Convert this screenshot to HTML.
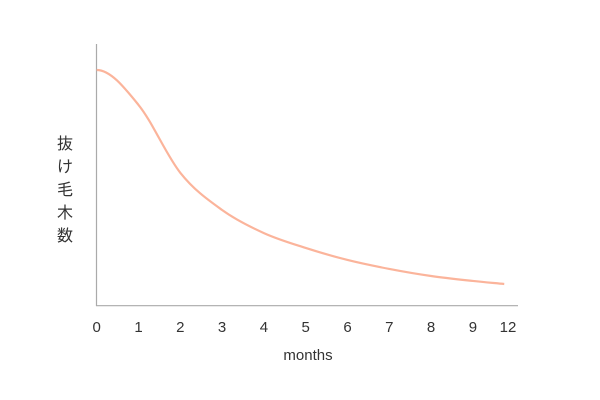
<!DOCTYPE html>
<html><head><meta charset="utf-8"><style>
html,body{margin:0;padding:0;background:#fff;}
svg{display:block;font-family:"Liberation Sans","Noto Sans CJK JP",sans-serif;}
</style></head><body>
<svg id="chart" width="600" height="400" viewBox="0 0 600 400">
<line x1="96.5" y1="44" x2="96.5" y2="306" stroke="#aaa" stroke-width="1.2"/>
<line x1="96" y1="305.7" x2="518" y2="305.7" stroke="#aaa" stroke-width="1.2"/>
<g id="xticks"></g>
<path id="curve" fill="none" stroke="#fbb49b" stroke-width="2.2"/>
<text x="308" y="360" text-anchor="middle" font-size="15" fill="#333">months</text>
<g font-size="16" fill="#333" text-anchor="middle">
<text x="65" y="149">抜</text><text x="65" y="172">け</text><text x="65" y="195">毛</text><text x="65" y="218">木</text><text x="65" y="241">数</text>
</g>
</svg>
<script>
const tickLabels = ["0","1","2","3","4","5","6","7","8","9","12"];
const tickIndex = [0,1,2,3,4,5,6,7,8,9,9.84];
const pointIndex = [0,1,2,3,4,5,6,7,8,9,9.75];
const values = [100,85.2,56.4,40.6,30.8,24.5,19.4,15.6,12.6,10.5,9.2];
const X0=96.7, DX=41.8, Y0=305.7, YS=2.357;
const xs = i => X0 + i*DX;
const ys = v => Y0 - v*YS;
const ns="http://www.w3.org/2000/svg";
const g=document.getElementById('xticks');
tickLabels.forEach((t,i)=>{
  const el=document.createElementNS(ns,'text');
  
  
  el.setAttribute('x',xs(tickIndex[i]));el.setAttribute('y',332);
  el.setAttribute('text-anchor','middle');el.setAttribute('font-size','15');el.setAttribute('fill','#333');
  el.textContent=t;g.appendChild(el);
});
// monotone cubic interpolation
const P=pointIndex.map((p,i)=>[xs(p),ys(values[i])]);
const n=P.length, d=[], m=[];
for(let i=0;i<n-1;i++) d.push((P[i+1][1]-P[i][1])/(P[i+1][0]-P[i][0]));
m[0]=0;
for(let i=1;i<n-1;i++) m[i]=(d[i-1]*d[i]<=0)?0:(d[i-1]+d[i])/2;
m[n-1]=d[n-2];
for(let i=0;i<n-1;i++){ if(d[i]===0){m[i]=m[i+1]=0;continue;}
  const a=m[i]/d[i], b=m[i+1]/d[i], s=a*a+b*b;
  if(s>9){const t=3/Math.sqrt(s); m[i]=t*a*d[i]; m[i+1]=t*b*d[i];}}
let path=`M${P[0][0]},${P[0][1]}`;
for(let i=0;i<n-1;i++){const h=(P[i+1][0]-P[i][0])/3;
  path+=` C${P[i][0]+h},${P[i][1]+m[i]*h} ${P[i+1][0]-h},${P[i+1][1]-m[i+1]*h} ${P[i+1][0]},${P[i+1][1]}`;}
document.getElementById('curve').setAttribute('d',path);
</script>
</body></html>
